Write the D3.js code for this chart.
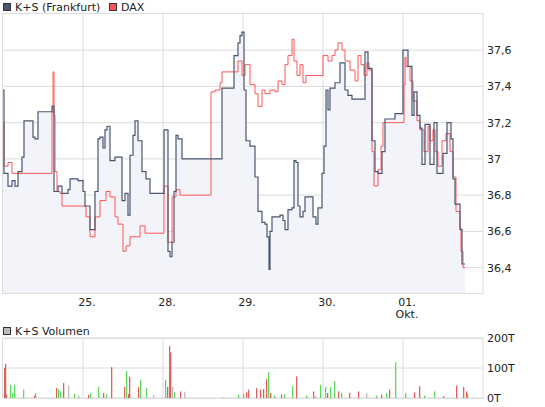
<!DOCTYPE html>
<html><head><meta charset="utf-8">
<script src="https://cdn.jsdelivr.net/npm/d3@7"></script>
<style>body{margin:0;background:#fff}svg{font-family:"DejaVu Sans",Verdana,sans-serif;font-size:11px}</style>
</head><body>
<svg id="chart" width="545" height="407"></svg>
<script>
// tick index: 80 trading units per day, 0 = start of 24.
var ksTick = [0,1,5,9,12,15,19,21,27,30,32,35,47,49,51,55,59,65,67,69,75,80,82,87,92,95,97,100,102,104,107,112,115,119,122,125,127,130,132,135,139,143,147,160,161,165,167,169,171,173,175,179,217,219,229,231,235,237,239,241,243,247,252,255,259,262,264,266,267,269,272,277,280,282,285,289,291,293,295,297,300,302,307,310,313,315,319,321,323,325,327,332,337,342,345,349,353,362,365,368,369,372,375,379,382,387,392,399,400,403,405,409,411,414,417,419,422,425,427,431,434,438,440,444,447,448,450,452,455,457,459,462];
var ksValue = [37.38,36.92,36.85,36.88,36.85,36.93,37.01,37.21,37.21,37.12,37.11,37.26,37.26,37.29,36.82,36.85,36.81,36.83,36.89,36.89,36.88,36.82,36.74,36.61,36.82,37.11,37.12,37.06,37.16,37.18,36.99,37.01,37.01,36.77,36.81,36.69,37.02,37.13,37.21,37.1,36.93,36.89,36.81,36.81,37.16,36.49,36.46,36.54,36.82,37.13,37.11,37.0,37.0,37.39,37.39,37.57,37.64,37.68,37.7,37.38,37.1,37.07,36.9,36.71,36.65,36.64,36.57,36.39,36.6,36.68,36.68,36.69,36.66,36.61,36.72,36.73,36.99,36.98,36.74,36.68,36.71,36.79,36.79,36.68,36.64,36.73,36.92,37.07,37.38,37.27,37.39,37.42,37.53,37.38,37.35,37.33,37.33,37.59,37.5,37.5,37.1,36.93,36.92,37.04,37.22,37.22,37.25,37.25,37.6,37.6,37.51,37.24,37.37,37.24,37.17,36.97,37.19,37.19,36.97,37.2,36.92,36.92,37.03,37.2,37.2,37.11,36.89,36.75,36.75,36.61,36.42,36.42];
var daxTick = [0,1,5,9,47,49,50,51,52,54,57,59,62,80,83,87,92,97,103,107,112,115,120,123,127,137,142,160,161,165,169,173,177,207,208,212,217,219,232,235,239,242,247,252,255,259,262,267,272,275,279,282,285,289,291,294,297,300,303,317,320,325,329,332,335,339,342,347,352,355,358,361,364,366,369,371,375,378,380,400,401,402,403,407,410,414,417,421,425,427,430,432,435,439,443,447,450,453,457,458,460,462];
var daxValue = [37.2,36.96,36.98,36.92,36.92,37.26,37.48,37.24,36.93,36.82,36.81,36.74,36.74,36.74,36.68,36.57,36.68,36.77,36.82,36.79,36.68,36.64,36.49,36.52,36.57,36.63,36.59,36.59,36.85,36.54,36.79,36.83,36.8,36.8,37.37,37.38,37.42,37.48,37.48,37.54,37.46,37.52,37.41,37.36,37.29,37.38,37.36,37.38,37.37,37.43,37.41,37.52,37.57,37.66,37.54,37.46,37.52,37.42,37.46,37.46,37.57,37.54,37.57,37.6,37.64,37.6,37.54,37.49,37.43,37.57,37.52,37.46,37.53,37.49,37.04,36.85,36.94,37.07,37.2,37.2,37.41,37.56,37.51,37.43,37.32,37.21,37.16,37.04,37.18,37.1,37.16,37.04,36.96,37.1,37.14,37.04,36.9,36.71,36.62,36.49,36.4,36.4];
// volume: tick, thousands, direction (1 up, -1 down, 0 flat)
var volTick = [0,1,2,6,8,10,19,30,31,52,54,56,59,64,70,74,84,86,94,99,102,107,120,122,124,125,134,136,142,149,161,163,165,166,168,170,176,180,219,234,239,242,244,252,256,259,262,264,266,270,277,280,288,292,302,309,311,316,321,323,326,330,334,337,345,354,362,372,377,382,385,391,401,410,415,420,430,439,452,459,462,463];
var volValue = [100,114,11,44,17,44,28,8,17,33,28,22,50,41,14,7,11,17,37,17,13,103,37,89,14,70,37,61,33,9,61,37,174,152,37,19,22,21,3,11,14,19,28,33,28,30,64,86,17,9,11,13,41,72,8,22,6,44,37,17,37,56,22,17,17,22,17,8,11,17,28,119,17,19,39,8,22,6,41,37,22,13];
var volDir = [-1,-1,-1,1,1,1,1,-1,1,-1,1,1,-1,0,1,0,-1,1,1,-1,1,-1,-1,1,-1,-1,-1,1,1,0,1,-1,-1,-1,0,1,-1,0,0,1,1,-1,-1,-1,-1,-1,-1,1,-1,1,-1,1,1,-1,1,-1,0,1,1,-1,1,1,-1,1,-1,-1,0,1,-1,1,-1,1,1,-1,-1,1,1,-1,-1,-1,-1,1];
var dayTicks = [80,160,240,320,400];
var dayLabels = ["25.","28.","29.","30.","01."];
var priceTicks = [36.4,36.6,36.8,37,37.2,37.4,37.6];
var volTicks = [0,100,200];

var svg = d3.select("#chart");
var x = d3.scaleLinear().domain([0,480]).range([3,483]);
var y = d3.scaleLinear().domain([36.26,37.805]).range([293,13]);
var yv = d3.scaleLinear().domain([0,200]).range([398,338]);
var grid = "#dcdcdc", dark = "#4a5570", red = "#ff5555";
var fmt = function(d){ return String(+d.toFixed(1)).replace(".", ","); };

function frame(y0, y1, ticks, ys, f){
  var g = svg.append("g");
  g.selectAll(".v").data(dayTicks).join("line").attr("x1",x).attr("x2",x).attr("y1",y0).attr("y2",y1).attr("stroke",grid);
  g.selectAll(".h").data(ticks).join("line").attr("x1",3).attr("x2",483).attr("y1",ys).attr("y2",ys).attr("stroke",grid);
  g.append("rect").attr("x",2.5).attr("y",y0+0.5).attr("width",480.5).attr("height",y1-y0-1).attr("fill","none").attr("stroke",grid);
  g.selectAll("text").data(ticks).join("text").attr("x",487).attr("y",function(d){return ys(d)+4;}).attr("fill","#222").text(f);
}
frame(13, 294, priceTicks, y, fmt);
frame(338, 399, volTicks, yv, function(d){ return d + "T"; });

var ks = ksTick.map(function(t,i){ return [t, ksValue[i]]; });
var dax = daxTick.map(function(t,i){ return [t, daxValue[i]]; });
svg.append("path").datum(ks).attr("fill","#f3f4fa")
  .attr("d", d3.area().curve(d3.curveStepAfter).x(function(d){return x(d[0]);}).y0(293).y1(function(d){return y(d[1]);}));
svg.append("path").datum(dax).attr("fill","none").attr("stroke",red).attr("stroke-width",1)
  .attr("d", d3.line().curve(d3.curveStepAfter).x(function(d){return x(d[0]);}).y(function(d){return y(d[1]);}));
svg.append("path").datum(ks).attr("fill","none").attr("stroke",dark).attr("stroke-width",1.2)
  .attr("d", d3.line().curve(d3.curveStepAfter).x(function(d){return x(d[0]);}).y(function(d){return y(d[1]);}));

svg.selectAll(".vol").data(volTick).join("rect")
  .attr("x", function(d){ return x(d) + 1; }).attr("width", 1.3)
  .attr("y", function(d,i){ return yv(volValue[i]); })
  .attr("height", function(d,i){ return 398 - yv(volValue[i]); })
  .attr("fill", function(d,i){ return volDir[i] > 0 ? "#5fd85f" : volDir[i] < 0 ? "#e06060" : "#bbbbbb"; });

svg.selectAll(".xl").data(dayTicks).join("text").attr("x",function(d){return x(d)+4;}).attr("y",306)
  .attr("text-anchor","middle").attr("fill","#222").text(function(d,i){return dayLabels[i];});
svg.append("text").attr("x",x(400)+4).attr("y",318).attr("text-anchor","middle").attr("fill","#222").text("Okt.");

function legend(lx, ly, color, label){
  svg.append("rect").attr("x",lx+0.5).attr("y",ly+0.5).attr("width",7).attr("height",7).attr("fill",color).attr("stroke","#333");
  svg.append("text").attr("x",lx+12).attr("y",ly+8).attr("fill","#222").text(label);
}
legend(3, 3, dark, "K+S (Frankfurt)");
legend(109, 3, red, "DAX");
legend(3, 327, "#bbbbbb", "K+S Volumen");
</script>
</body></html>
